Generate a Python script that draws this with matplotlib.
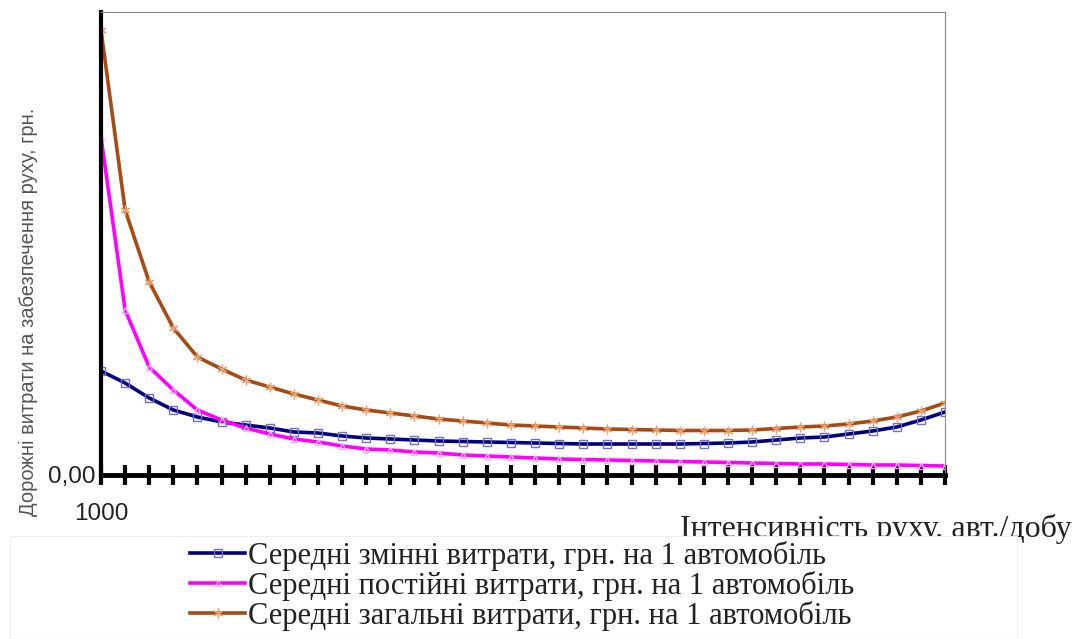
import matplotlib.pyplot as plt
from matplotlib.patches import Rectangle

# traffic intensity, vehicles per day (only the first label is shown)
intensity = list(range(1000, 36001, 1000))

# average costs per vehicle, UAH
variable = [1.04, 0.92, 0.77, 0.65, 0.58, 0.53, 0.50, 0.47, 0.43, 0.42, 0.39, 0.37,
            0.36, 0.35, 0.34, 0.335, 0.33, 0.325, 0.32, 0.315, 0.31, 0.31, 0.31, 0.31,
            0.31, 0.315, 0.32, 0.33, 0.35, 0.37, 0.38, 0.41, 0.44, 0.48, 0.55, 0.63]
constant = [3.38, 1.65, 1.08, 0.85, 0.65, 0.55, 0.47, 0.41, 0.36, 0.33, 0.29, 0.26,
            0.25, 0.23, 0.22, 0.20, 0.19, 0.18, 0.17, 0.16, 0.155, 0.15, 0.145, 0.14,
            0.135, 0.13, 0.125, 0.12, 0.115, 0.11, 0.11, 0.105, 0.10, 0.10, 0.095, 0.09]
total = [4.45, 2.65, 1.93, 1.47, 1.18, 1.06, 0.95, 0.88, 0.81, 0.75, 0.69, 0.65,
         0.62, 0.59, 0.56, 0.54, 0.52, 0.50, 0.49, 0.48, 0.47, 0.46, 0.455, 0.45,
         0.445, 0.445, 0.445, 0.45, 0.465, 0.48, 0.49, 0.51, 0.54, 0.58, 0.64, 0.72]

labels = ["Середні змінні витрати, грн. на 1 автомобіль",
          "Середні постійні витрати, грн. на 1 автомобіль",
          "Середні загальні витрати, грн. на 1 автомобіль"]

fig = plt.figure(figsize=(10.8, 6.39), dpi=100)
ax = fig.add_axes([101 / 1080, 1 - 475 / 639, 844 / 1080, 463 / 639])

ax.plot(intensity, variable, color="#000080", lw=2.6, marker="s", ms=6,
        mfc="none", mec="#7070c8", mew=1.0, label=labels[0])
ax.plot(intensity, constant, color="#ff00ff", lw=2.6, marker="^", ms=5,
        mfc="none", mec="#ffa8ff", mew=1.0, label=labels[1])
ax.plot(intensity, total, color="#a84a14", lw=2.6, marker=(6, 2, 0), ms=7,
        mec="#eaa070", mew=0.9, label=labels[2])

ax.set_xlim(intensity[0], intensity[-1])
ax.set_ylim(0, 4.63)
ax.set_xticks(intensity)
ax.set_xticklabels([str(intensity[0])] + [""] * (len(intensity) - 1))
ax.set_yticks([0])
ax.set_yticklabels(["0,00"])
ax.tick_params(axis="x", direction="inout", length=15, width=3, pad=13,
               labelsize=17.5)
ax.tick_params(axis="y", length=0, pad=4, labelsize=17.5)
for t in ax.get_xticklabels() + ax.get_yticklabels():
    t.set_fontfamily("Liberation Sans")
    t.set_color("#222222")

ax.spines["left"].set_linewidth(3)
ax.spines["bottom"].set_linewidth(3.5)
ax.spines["top"].set_color("#888888")
ax.spines["right"].set_color("#888888")
ax.spines["top"].set_linewidth(0.8)
ax.spines["right"].set_linewidth(0.8)

fig.text(28 / 1080, 1 - 312 / 639, "Дорожні витрати на забезпечення руху, грн.",
         rotation=90, ha="center", va="center", fontsize=14.5,
         family="Liberation Sans", color="#555555")
fig.text(1072 / 1080, 1 - 537 / 639, "Інтенсивність руху, авт./добу",
         ha="right", va="baseline", fontsize=23, family="Liberation Serif",
         color="#222222")

# legend area covers the lower part of the axis title, as in the original
fig.patches.append(Rectangle((10 / 1080, 0), 1007 / 1080, 1 - 536 / 639,
                             transform=fig.transFigure, facecolor="white",
                             edgecolor="#eeeeee", lw=0.8, zorder=5))
leg = fig.legend(loc="upper left", bbox_to_anchor=(190 / 1080, 1 - 541 / 639),
                 frameon=False, borderpad=0, borderaxespad=0,
                 handlelength=1.8, handletextpad=0.1, labelspacing=0.0,
                 prop={"family": "Liberation Serif", "size": 22})
leg.set_zorder(6)
for t in leg.get_texts():
    t.set_color("#222222")

fig.savefig("out.png", dpi=100)
